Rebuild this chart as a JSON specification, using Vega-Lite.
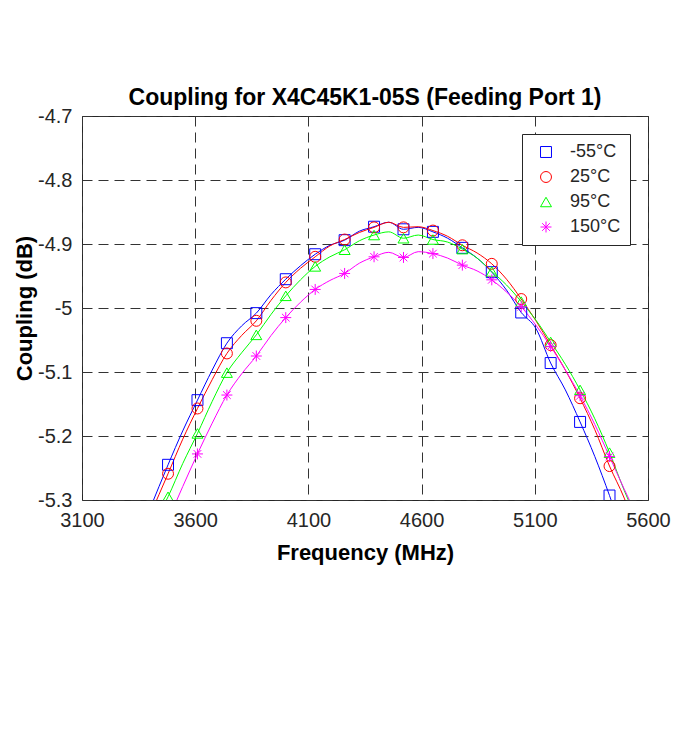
{
  "$schema": "https://vega.github.io/schema/vega-lite/v6.json",
  "width": 566,
  "height": 384,
  "autosize": {"type": "none"},
  "padding": {"left": 82, "top": 116, "right": 25, "bottom": 236},
  "background": "white",
  "title": {
    "text": "Coupling for X4C45K1-05S (Feeding Port 1)",
    "font": "Liberation Sans",
    "fontSize": 23,
    "fontWeight": "bold",
    "color": "black",
    "anchor": "middle",
    "frame": "group",
    "baseline": "alphabetic",
    "offset": -22
  },
  "config": {
    "view": {"stroke": "#262626", "strokeWidth": 1},
    "axis": {
      "labelFont": "Liberation Sans",
      "labelFontSize": 20,
      "labelColor": "#262626",
      "titleFont": "Liberation Sans",
      "titleFontSize": 22,
      "titleFontWeight": "bold",
      "titleColor": "black",
      "domain": false,
      "ticks": false,
      "grid": true,
      "gridColor": "#333333",
      "gridDash": [10, 6],
      "gridWidth": 1
    },
    "legend": {
      "labelFont": "Liberation Sans",
      "labelFontSize": 18,
      "labelColor": "#262626"
    }
  },
  "datasets": {
    "curves": [
      {"f":3400,"v":-5.314,"s":"-55°C","m":0},
      {"f":3480,"v":-5.245,"s":"-55°C","m":1},
      {"f":3545,"v":-5.192,"s":"-55°C","m":0},
      {"f":3610,"v":-5.144,"s":"-55°C","m":1},
      {"f":3675,"v":-5.097,"s":"-55°C","m":0},
      {"f":3740,"v":-5.055,"s":"-55°C","m":1},
      {"f":3805,"v":-5.028,"s":"-55°C","m":0},
      {"f":3870,"v":-5.008,"s":"-55°C","m":1},
      {"f":3935,"v":-4.979,"s":"-55°C","m":0},
      {"f":4000,"v":-4.955,"s":"-55°C","m":1},
      {"f":4065,"v":-4.934,"s":"-55°C","m":0},
      {"f":4130,"v":-4.916,"s":"-55°C","m":1},
      {"f":4195,"v":-4.902,"s":"-55°C","m":0},
      {"f":4260,"v":-4.894,"s":"-55°C","m":1},
      {"f":4325,"v":-4.880,"s":"-55°C","m":0},
      {"f":4390,"v":-4.873,"s":"-55°C","m":1},
      {"f":4455,"v":-4.866,"s":"-55°C","m":0},
      {"f":4520,"v":-4.877,"s":"-55°C","m":1},
      {"f":4585,"v":-4.874,"s":"-55°C","m":0},
      {"f":4650,"v":-4.881,"s":"-55°C","m":1},
      {"f":4715,"v":-4.891,"s":"-55°C","m":0},
      {"f":4780,"v":-4.906,"s":"-55°C","m":1},
      {"f":4845,"v":-4.922,"s":"-55°C","m":0},
      {"f":4910,"v":-4.944,"s":"-55°C","m":1},
      {"f":4975,"v":-4.972,"s":"-55°C","m":0},
      {"f":5040,"v":-5.007,"s":"-55°C","m":1},
      {"f":5105,"v":-5.032,"s":"-55°C","m":0},
      {"f":5170,"v":-5.086,"s":"-55°C","m":1},
      {"f":5235,"v":-5.128,"s":"-55°C","m":0},
      {"f":5300,"v":-5.178,"s":"-55°C","m":1},
      {"f":5365,"v":-5.232,"s":"-55°C","m":0},
      {"f":5430,"v":-5.293,"s":"-55°C","m":1},
      {"f":5495,"v":-5.360,"s":"-55°C","m":0},

      {"f":3400,"v":-5.324,"s":"25°C","m":0},
      {"f":3480,"v":-5.259,"s":"25°C","m":1},
      {"f":3545,"v":-5.205,"s":"25°C","m":0},
      {"f":3610,"v":-5.157,"s":"25°C","m":1},
      {"f":3675,"v":-5.112,"s":"25°C","m":0},
      {"f":3740,"v":-5.071,"s":"25°C","m":1},
      {"f":3805,"v":-5.043,"s":"25°C","m":0},
      {"f":3870,"v":-5.020,"s":"25°C","m":1},
      {"f":3935,"v":-4.988,"s":"25°C","m":0},
      {"f":4000,"v":-4.960,"s":"25°C","m":1},
      {"f":4065,"v":-4.938,"s":"25°C","m":0},
      {"f":4130,"v":-4.920,"s":"25°C","m":1},
      {"f":4195,"v":-4.903,"s":"25°C","m":0},
      {"f":4260,"v":-4.893,"s":"25°C","m":1},
      {"f":4325,"v":-4.882,"s":"25°C","m":0},
      {"f":4390,"v":-4.874,"s":"25°C","m":1},
      {"f":4455,"v":-4.866,"s":"25°C","m":0},
      {"f":4520,"v":-4.874,"s":"25°C","m":1},
      {"f":4585,"v":-4.873,"s":"25°C","m":0},
      {"f":4650,"v":-4.879,"s":"25°C","m":1},
      {"f":4715,"v":-4.888,"s":"25°C","m":0},
      {"f":4780,"v":-4.902,"s":"25°C","m":1},
      {"f":4845,"v":-4.914,"s":"25°C","m":0},
      {"f":4910,"v":-4.931,"s":"25°C","m":1},
      {"f":4975,"v":-4.955,"s":"25°C","m":0},
      {"f":5040,"v":-4.986,"s":"25°C","m":1},
      {"f":5105,"v":-5.020,"s":"25°C","m":0},
      {"f":5170,"v":-5.058,"s":"25°C","m":1},
      {"f":5235,"v":-5.097,"s":"25°C","m":0},
      {"f":5300,"v":-5.141,"s":"25°C","m":1},
      {"f":5365,"v":-5.190,"s":"25°C","m":0},
      {"f":5430,"v":-5.247,"s":"25°C","m":1},
      {"f":5495,"v":-5.297,"s":"25°C","m":0},
      {"f":5560,"v":-5.360,"s":"25°C","m":0},

      {"f":3400,"v":-5.346,"s":"95°C","m":0},
      {"f":3480,"v":-5.295,"s":"95°C","m":1},
      {"f":3545,"v":-5.243,"s":"95°C","m":0},
      {"f":3610,"v":-5.196,"s":"95°C","m":1},
      {"f":3675,"v":-5.146,"s":"95°C","m":0},
      {"f":3740,"v":-5.101,"s":"95°C","m":1},
      {"f":3805,"v":-5.070,"s":"95°C","m":0},
      {"f":3870,"v":-5.042,"s":"95°C","m":1},
      {"f":3935,"v":-5.010,"s":"95°C","m":0},
      {"f":4000,"v":-4.981,"s":"95°C","m":1},
      {"f":4065,"v":-4.956,"s":"95°C","m":0},
      {"f":4130,"v":-4.935,"s":"95°C","m":1},
      {"f":4195,"v":-4.920,"s":"95°C","m":0},
      {"f":4260,"v":-4.909,"s":"95°C","m":1},
      {"f":4325,"v":-4.895,"s":"95°C","m":0},
      {"f":4390,"v":-4.886,"s":"95°C","m":1},
      {"f":4455,"v":-4.881,"s":"95°C","m":0},
      {"f":4520,"v":-4.891,"s":"95°C","m":1},
      {"f":4585,"v":-4.886,"s":"95°C","m":0},
      {"f":4650,"v":-4.893,"s":"95°C","m":1},
      {"f":4715,"v":-4.897,"s":"95°C","m":0},
      {"f":4780,"v":-4.908,"s":"95°C","m":1},
      {"f":4845,"v":-4.922,"s":"95°C","m":0},
      {"f":4910,"v":-4.943,"s":"95°C","m":1},
      {"f":4975,"v":-4.964,"s":"95°C","m":0},
      {"f":5040,"v":-4.990,"s":"95°C","m":1},
      {"f":5105,"v":-5.019,"s":"95°C","m":0},
      {"f":5170,"v":-5.053,"s":"95°C","m":1},
      {"f":5235,"v":-5.088,"s":"95°C","m":0},
      {"f":5300,"v":-5.128,"s":"95°C","m":1},
      {"f":5365,"v":-5.173,"s":"95°C","m":0},
      {"f":5430,"v":-5.226,"s":"95°C","m":1},
      {"f":5495,"v":-5.285,"s":"95°C","m":0},
      {"f":5520,"v":-5.306,"s":"95°C","m":0},

      {"f":3400,"v":-5.400,"s":"150°C","m":0},
      {"f":3480,"v":-5.332,"s":"150°C","m":0},
      {"f":3545,"v":-5.279,"s":"150°C","m":0},
      {"f":3610,"v":-5.228,"s":"150°C","m":1},
      {"f":3675,"v":-5.180,"s":"150°C","m":0},
      {"f":3740,"v":-5.136,"s":"150°C","m":1},
      {"f":3805,"v":-5.103,"s":"150°C","m":0},
      {"f":3870,"v":-5.075,"s":"150°C","m":1},
      {"f":3935,"v":-5.043,"s":"150°C","m":0},
      {"f":4000,"v":-5.015,"s":"150°C","m":1},
      {"f":4065,"v":-4.991,"s":"150°C","m":0},
      {"f":4130,"v":-4.971,"s":"150°C","m":1},
      {"f":4195,"v":-4.957,"s":"150°C","m":0},
      {"f":4260,"v":-4.946,"s":"150°C","m":1},
      {"f":4325,"v":-4.930,"s":"150°C","m":0},
      {"f":4390,"v":-4.920,"s":"150°C","m":1},
      {"f":4455,"v":-4.913,"s":"150°C","m":0},
      {"f":4520,"v":-4.921,"s":"150°C","m":1},
      {"f":4585,"v":-4.912,"s":"150°C","m":0},
      {"f":4650,"v":-4.915,"s":"150°C","m":1},
      {"f":4715,"v":-4.922,"s":"150°C","m":0},
      {"f":4780,"v":-4.933,"s":"150°C","m":1},
      {"f":4845,"v":-4.942,"s":"150°C","m":0},
      {"f":4910,"v":-4.956,"s":"150°C","m":1},
      {"f":4975,"v":-4.975,"s":"150°C","m":0},
      {"f":5040,"v":-4.998,"s":"150°C","m":1},
      {"f":5105,"v":-5.027,"s":"150°C","m":0},
      {"f":5170,"v":-5.060,"s":"150°C","m":1},
      {"f":5235,"v":-5.097,"s":"150°C","m":0},
      {"f":5300,"v":-5.137,"s":"150°C","m":1},
      {"f":5365,"v":-5.182,"s":"150°C","m":0},
      {"f":5430,"v":-5.232,"s":"150°C","m":1},
      {"f":5495,"v":-5.283,"s":"150°C","m":0},
      {"f":5520,"v":-5.302,"s":"150°C","m":0},
      {"f":5560,"v":-5.340,"s":"150°C","m":0}
    ]
  },
  "data": {"name": "curves"},
  "encoding": {
    "x": {
      "field": "f",
      "type": "quantitative",
      "scale": {"domain": [3100, 5600], "nice": false, "zero": false},
      "axis": {
        "title": "Frequency (MHz)",
        "values": [3100, 3600, 4100, 4600, 5100, 5600],
        "labelPadding": 10,
        "titlePadding": 12,
        "labelFlush": false,
        "labelExpr": "'' + datum.value"
      }
    },
    "y": {
      "field": "v",
      "type": "quantitative",
      "scale": {"domain": [-5.3, -4.7], "nice": false, "zero": false},
      "axis": {
        "title": "Coupling (dB)",
        "values": [-5.3, -5.2, -5.1, -5, -4.9, -4.8, -4.7],
        "labelPadding": 10,
        "titlePadding": 1,
        "labelFlush": false,
        "labelExpr": "'' + datum.value"
      }
    },
    "color": {
      "field": "s",
      "type": "nominal",
      "scale": {
        "domain": ["-55°C", "25°C", "95°C", "150°C"],
        "range": ["#0000ff", "#ff0000", "#00ff00", "#ff00ff"]
      },
      "legend": {
        "title": null,
        "orient": "top-right",
        "offset": 18,
        "padding": 9,
        "fillColor": "white",
        "strokeColor": "#262626",
        "symbolSize": 120,
        "symbolStrokeWidth": 1,
        "symbolFillColor": "transparent",
        "symbolOffset": 6,
        "rowPadding": 7,
        "labelOffset": 15
      }
    }
  },
  "layer": [
    {
      "mark": {"type": "line", "interpolate": "monotone", "strokeWidth": 1, "clip": true},
      "encoding": {"detail": {"field": "s"}}
    },
    {
      "transform": [{"filter": "datum.m == 1"}],
      "mark": {"type": "point", "filled": false, "strokeWidth": 1, "size": 120, "opacity": 1, "clip": true},
      "encoding": {
        "shape": {
          "field": "s",
          "type": "nominal",
          "scale": {
            "domain": ["-55°C", "25°C", "95°C", "150°C"],
            "range": ["square", "circle", "triangle-up", "M0,-1L0,1M-1,0L1,0M-0.7,-0.7L0.7,0.7M-0.7,0.7L0.7,-0.7"]
          },
          "legend": {"title": null}
        }
      }
    }
  ]
}
